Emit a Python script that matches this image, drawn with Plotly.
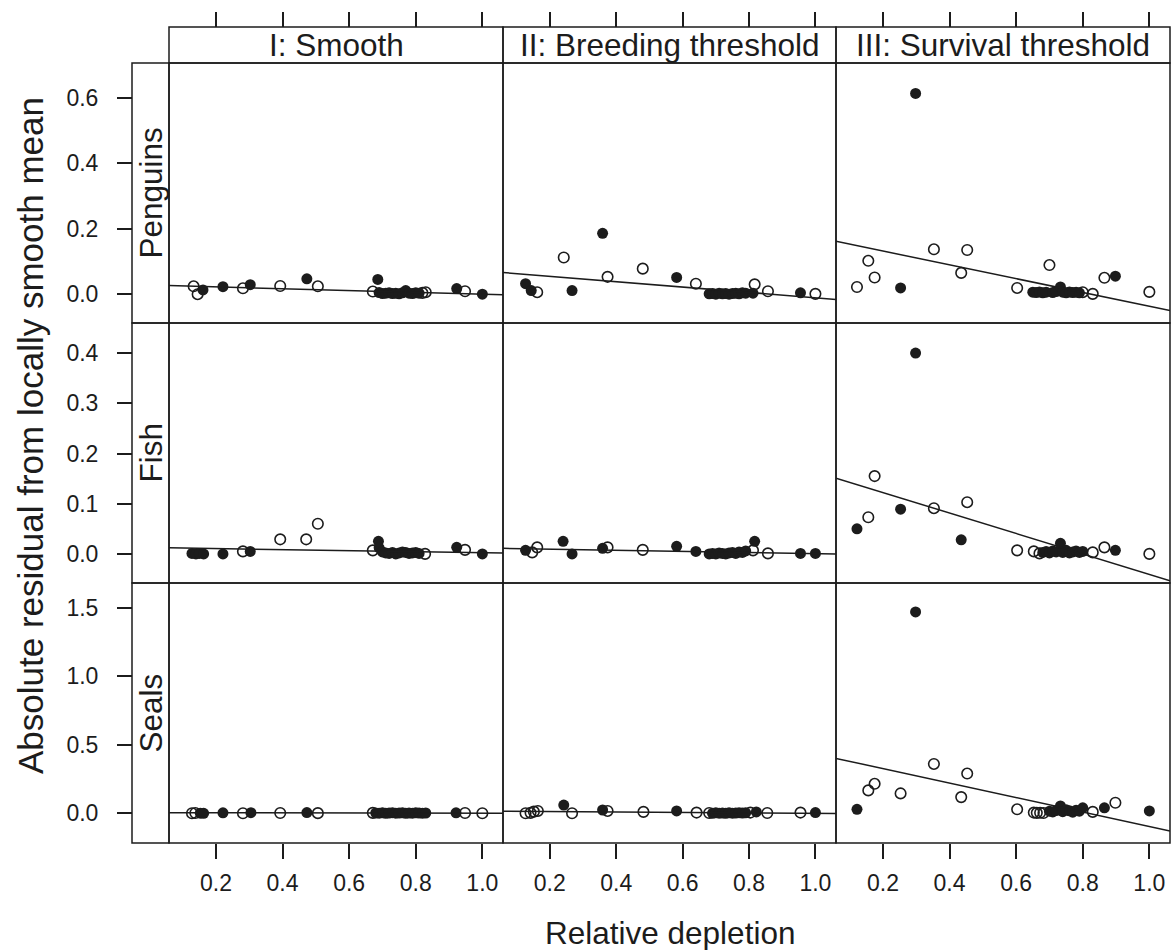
import plotly.graph_objects as go

# ---- data -------------------------------------------------------------------
ROWS = ["Penguins", "Fish", "Seals"]
COLS = ["I: Smooth", "II: Breeding threshold", "III: Survival threshold"]

X_TICKS = [0.2, 0.4, 0.6, 0.8, 1.0]
X_TICK_TEXT = ["0.2", "0.4", "0.6", "0.8", "1.0"]
Y_TICKS = [[0.0, 0.2, 0.4, 0.6], [0.0, 0.1, 0.2, 0.3, 0.4], [0.0, 0.5, 1.0, 1.5]]
Y_TICK_TEXT = [["0.0", "0.2", "0.4", "0.6"],
               ["0.0", "0.1", "0.2", "0.3", "0.4"],
               ["0.0", "0.5", "1.0", "1.5"]]
X_RANGE = [0.059, 1.062]
Y_RANGES = [[-0.088, 0.706], [-0.058, 0.46], [-0.217, 1.681]]

# fitted lines: y = a + b * x, per row, per column
INTERCEPTS = [[0.028, 0.071, 0.174], [0.0126, 0.0117, 0.163], [0.005, 0.016, 0.432]]
SLOPES = [[-0.028, -0.082, -0.211], [-0.010, -0.011, -0.204], [-0.005, -0.017, -0.529]]

# points: x, y, filled (1) / open (0)
PEN_I_X = [0.133, 0.145, 0.161, 0.221, 0.281, 0.303, 0.393, 0.473, 0.506, 0.671, 0.686,
           0.69, 0.70, 0.71, 0.72, 0.73, 0.74, 0.75, 0.76, 0.77, 0.78, 0.79, 0.80, 0.81, 0.82, 0.83,
           0.923, 0.948, 1.0]
PEN_I_Y = [0.024, 0.0, 0.013, 0.023, 0.018, 0.029, 0.025, 0.047, 0.024, 0.008, 0.045,
           0.005, 0.002, 0.003, 0.004, 0.002, 0.003, 0.001, 0.004, 0.011, 0.003, 0.002, 0.004, 0.003, 0.004, 0.006,
           0.017, 0.009, 0.0]
PEN_I_F = [0, 0, 1, 1, 0, 1, 0, 1, 0, 0, 1,
           1, 1, 1, 1, 1, 1, 1, 1, 1, 1, 1, 1, 1, 0, 0,
           1, 0, 1]

PEN_II_X = [0.127, 0.144, 0.162, 0.242, 0.267, 0.359, 0.374, 0.480, 0.582, 0.640,
            0.68, 0.69, 0.70, 0.71, 0.72, 0.73, 0.74, 0.75, 0.76, 0.77, 0.78, 0.79,
            0.812, 0.817, 0.857, 0.955, 1.0]
PEN_II_Y = [0.032, 0.011, 0.006, 0.112, 0.011, 0.186, 0.053, 0.078, 0.051, 0.032,
            0.001, 0.002, 0.0, 0.003, 0.001, 0.002, 0.0, 0.002, 0.003, 0.001, 0.004, 0.003,
            0.003, 0.030, 0.009, 0.004, 0.001]
PEN_II_F = [1, 1, 0, 0, 1, 1, 0, 0, 1, 0,
            1, 1, 1, 1, 1, 1, 1, 1, 1, 1, 1, 1,
            1, 0, 0, 1, 0]

PEN_III_X = [0.122, 0.156, 0.175, 0.253, 0.298, 0.353, 0.435, 0.453, 0.603, 0.700,
             0.65, 0.66, 0.67, 0.68, 0.69, 0.71, 0.72, 0.733, 0.74, 0.75, 0.76, 0.77, 0.78, 0.79,
             0.80, 0.83, 0.865, 0.898, 1.0]
PEN_III_Y = [0.022, 0.102, 0.051, 0.019, 0.613, 0.137, 0.065, 0.135, 0.019, 0.089,
             0.006, 0.005, 0.007, 0.004, 0.006, 0.005, 0.008, 0.022, 0.006, 0.004, 0.007, 0.005, 0.006, 0.004,
             0.006, 0.001, 0.050, 0.055, 0.007]
PEN_III_F = [0, 0, 0, 1, 1, 0, 0, 0, 0, 0,
             1, 1, 1, 1, 1, 1, 1, 1, 1, 1, 1, 1, 1, 1,
             0, 0, 0, 1, 0]

FISH_I_X = [0.128, 0.140, 0.150, 0.163, 0.221, 0.281, 0.303, 0.393, 0.471, 0.506, 0.671, 0.688,
            0.69, 0.70, 0.71, 0.72, 0.73, 0.74, 0.75, 0.76, 0.77, 0.78, 0.79, 0.80, 0.81, 0.828,
            0.923, 0.948, 1.0]
FISH_I_Y = [0.001, 0.0, 0.001, 0.0, 0.0, 0.005, 0.005, 0.029, 0.029, 0.060, 0.007, 0.025,
            0.012, 0.004, 0.002, 0.001, 0.003, 0.0, 0.002, 0.004, 0.003, 0.001, 0.002, 0.003, 0.001, 0.0,
            0.013, 0.008, 0.0]
FISH_I_F = [1, 1, 1, 1, 1, 0, 1, 0, 0, 0, 0, 1,
            1, 1, 1, 1, 1, 1, 1, 1, 1, 1, 1, 1, 1, 0,
            1, 0, 1]

FISH_II_X = [0.127, 0.147, 0.162, 0.240, 0.267, 0.359, 0.374, 0.480, 0.582, 0.640,
             0.68, 0.69, 0.70, 0.71, 0.72, 0.73, 0.74, 0.75, 0.76, 0.77, 0.78, 0.79,
             0.812, 0.817, 0.857, 0.955, 1.0]
FISH_II_Y = [0.007, 0.003, 0.013, 0.025, 0.0, 0.011, 0.013, 0.008, 0.015, 0.005,
             0.0, 0.001, 0.0, 0.002, 0.001, 0.0, 0.002, 0.003, 0.001, 0.004, 0.003, 0.006,
             0.007, 0.025, 0.001, 0.001, 0.001]
FISH_II_F = [1, 0, 0, 1, 1, 1, 0, 0, 1, 1,
             1, 1, 1, 1, 1, 1, 1, 1, 1, 1, 1, 1,
             0, 1, 0, 1, 1]

FISH_III_X = [0.122, 0.156, 0.175, 0.253, 0.298, 0.353, 0.435, 0.453, 0.603, 0.653, 0.670,
              0.68, 0.69, 0.70, 0.71, 0.72, 0.733, 0.74, 0.75, 0.76, 0.77, 0.78, 0.79, 0.80,
              0.83, 0.865, 0.898, 1.0]
FISH_III_Y = [0.050, 0.073, 0.155, 0.089, 0.400, 0.091, 0.028, 0.103, 0.007, 0.005, 0.001,
              0.003, 0.005, 0.002, 0.006, 0.004, 0.021, 0.003, 0.007, 0.002, 0.004, 0.006, 0.003, 0.005,
              0.003, 0.013, 0.007, 0.0]
FISH_III_F = [1, 0, 0, 1, 1, 0, 1, 0, 0, 0, 0,
              1, 1, 1, 1, 1, 1, 1, 1, 1, 1, 1, 1, 1,
              0, 0, 1, 0]

SEAL_I_X = [0.128, 0.138, 0.153, 0.163, 0.221, 0.281, 0.305, 0.393, 0.473, 0.506, 0.671,
            0.68, 0.69, 0.70, 0.71, 0.72, 0.73, 0.74, 0.75, 0.76, 0.77, 0.78, 0.79, 0.80, 0.81, 0.82, 0.83,
            0.921, 0.948, 1.0]
SEAL_I_Y = [0.0, 0.002, 0.001, 0.0, 0.003, 0.0, 0.004, 0.002, 0.005, 0.001, 0.003,
            0.002, 0.001, 0.003, 0.0, 0.002, 0.004, 0.001, 0.002, 0.003, 0.0, 0.002, 0.001, 0.003, 0.002, 0.001, 0.002,
            0.003, 0.002, 0.0]
SEAL_I_F = [0, 0, 1, 1, 1, 0, 1, 0, 1, 0, 0,
            1, 1, 1, 1, 1, 1, 1, 1, 1, 1, 1, 1, 1, 1, 1, 1,
            1, 0, 0]

SEAL_II_X = [0.127, 0.142, 0.152, 0.164, 0.242, 0.267, 0.359, 0.374, 0.482, 0.582, 0.642,
             0.68, 0.69, 0.70, 0.71, 0.72, 0.73, 0.74, 0.75, 0.76, 0.77, 0.78, 0.79,
             0.804, 0.822, 0.855, 0.955, 1.0]
SEAL_II_Y = [0.0, 0.003, 0.012, 0.017, 0.060, 0.0, 0.024, 0.017, 0.010, 0.017, 0.005,
             0.002, 0.0, 0.003, 0.001, 0.002, 0.0, 0.003, 0.001, 0.002, 0.004, 0.002, 0.003,
             0.005, 0.010, 0.002, 0.005, 0.005]
SEAL_II_F = [0, 0, 0, 0, 1, 0, 1, 0, 0, 1, 0,
             0, 1, 1, 1, 1, 1, 1, 1, 1, 1, 1, 1,
             0, 1, 0, 0, 1]

SEAL_III_X = [0.122, 0.156, 0.175, 0.253, 0.298, 0.353, 0.435, 0.453, 0.603, 0.653, 0.662, 0.672, 0.682,
              0.70, 0.71, 0.72, 0.733, 0.74, 0.75, 0.76, 0.77, 0.78, 0.79, 0.80,
              0.83, 0.865, 0.898, 1.0]
SEAL_III_Y = [0.029, 0.167, 0.215, 0.145, 1.47, 0.360, 0.118, 0.290, 0.029, 0.005, 0.003, 0.004, 0.002,
              0.015, 0.010, 0.020, 0.053, 0.012, 0.025, 0.018, 0.008, 0.022, 0.015, 0.040,
              0.010, 0.040, 0.077, 0.017]
SEAL_III_F = [1, 0, 0, 0, 1, 0, 0, 0, 0, 0, 0, 0, 0,
              1, 1, 1, 1, 1, 1, 1, 1, 1, 1, 1,
              0, 1, 0, 1]

PANELS = [
    [(PEN_I_X, PEN_I_Y, PEN_I_F), (PEN_II_X, PEN_II_Y, PEN_II_F), (PEN_III_X, PEN_III_Y, PEN_III_F)],
    [(FISH_I_X, FISH_I_Y, FISH_I_F), (FISH_II_X, FISH_II_Y, FISH_II_F), (FISH_III_X, FISH_III_Y, FISH_III_F)],
    [(SEAL_I_X, SEAL_I_Y, SEAL_I_F), (SEAL_II_X, SEAL_II_Y, SEAL_II_F), (SEAL_III_X, SEAL_III_Y, SEAL_III_F)],
]

# ---- layout geometry (pixels) ---------------------------------------------
W, H = 1171, 950
COL_EDGES = [169, 503, 836, 1170]
ROW_EDGES = [63, 323, 583, 843]
STRIP_TOP = 27
STRIP_LEFT = 132
INK = "#1c1c1c"
FONT = "Liberation Sans, Arial, Helvetica, sans-serif"


def fx(p):
    return p / W


def fy(p):
    return 1 - p / H


fig = go.Figure()
axes = {}

for r in range(3):
    for c in range(3):
        k = r * 3 + c + 1
        sfx = "" if k == 1 else str(k)
        xs, ys, fl = PANELS[r][c]

        fig.add_trace(go.Scatter(
            x=[x for x, f in zip(xs, fl) if not f],
            y=[y for y, f in zip(ys, fl) if not f],
            mode="markers", xaxis="x" + sfx, yaxis="y" + sfx,
            marker=dict(symbol="circle-open", size=10.5, color=INK, line=dict(width=1.6)),
        ))
        fig.add_trace(go.Scatter(
            x=[x for x, f in zip(xs, fl) if f],
            y=[y for y, f in zip(ys, fl) if f],
            mode="markers", xaxis="x" + sfx, yaxis="y" + sfx,
            marker=dict(symbol="circle", size=11, color=INK),
        ))
        a, b = INTERCEPTS[r][c], SLOPES[r][c]
        fig.add_trace(go.Scatter(
            x=X_RANGE, y=[a + b * x for x in X_RANGE],
            mode="lines", xaxis="x" + sfx, yaxis="y" + sfx,
            line=dict(color=INK, width=1.5),
        ))

        bottom = r == 2
        axes["xaxis" + sfx] = dict(
            domain=[fx(COL_EDGES[c]), fx(COL_EDGES[c + 1])],
            range=X_RANGE, anchor="y" + sfx,
            showgrid=False, zeroline=False, showline=False,
            ticks="outside" if bottom else "", ticklen=15, tickwidth=1.5, tickcolor=INK,
            tickvals=X_TICKS, ticktext=X_TICK_TEXT, showticklabels=bottom,
            tickfont=dict(size=23, color=INK), ticklabelstandoff=4,
        )
        ya = dict(
            domain=[fy(ROW_EDGES[r + 1]), fy(ROW_EDGES[r])],
            range=Y_RANGES[r], showgrid=False, zeroline=False, showline=False,
        )
        if c == 0:
            ya.update(anchor="free", position=fx(STRIP_LEFT), ticks="outside", ticklen=15,
                      tickwidth=1.5, tickcolor=INK, tickvals=Y_TICKS[r], ticktext=Y_TICK_TEXT[r],
                      tickfont=dict(size=23, color=INK), ticklabelstandoff=14)
        else:
            ya.update(anchor="x" + sfx, ticks="", showticklabels=False)
        axes["yaxis" + sfx] = ya

# tick marks above the top strip
for c in range(3):
    base = "x" if c == 0 else "x" + str(c + 1)
    k = 10 + c
    axes["xaxis%d" % k] = dict(
        overlaying=base, anchor="free", position=fy(STRIP_TOP), side="top",
        range=X_RANGE, showgrid=False, zeroline=False, showline=False,
        ticks="outside", ticklen=15, tickwidth=1.5, tickcolor=INK,
        tickvals=X_TICKS, showticklabels=False,
    )
    fig.add_trace(go.Scatter(x=[None], y=[None], mode="markers", xaxis="x%d" % k,
                             yaxis="y" if c == 0 else "y" + str(c + 1), hoverinfo="skip"))

shapes = []
line = dict(color=INK, width=1.5)
for r in range(3):
    for c in range(3):
        shapes.append(dict(type="rect", xref="paper", yref="paper", line=line,
                           x0=fx(COL_EDGES[c]), x1=fx(COL_EDGES[c + 1]),
                           y0=fy(ROW_EDGES[r + 1]), y1=fy(ROW_EDGES[r])))
for c in range(3):
    shapes.append(dict(type="rect", xref="paper", yref="paper", line=line,
                       x0=fx(COL_EDGES[c]), x1=fx(COL_EDGES[c + 1]),
                       y0=fy(ROW_EDGES[0]), y1=fy(STRIP_TOP)))
for r in range(3):
    shapes.append(dict(type="rect", xref="paper", yref="paper", line=line,
                       x0=fx(STRIP_LEFT), x1=fx(COL_EDGES[0]),
                       y0=fy(ROW_EDGES[r + 1]), y1=fy(ROW_EDGES[r])))

annotations = []
for c, name in enumerate(COLS):
    annotations.append(dict(text=name, xref="paper", yref="paper", showarrow=False,
                            x=fx((COL_EDGES[c] + COL_EDGES[c + 1]) / 2), y=fy((STRIP_TOP + ROW_EDGES[0]) / 2),
                            xanchor="center", yanchor="middle", font=dict(size=31.5, color=INK)))
for r, name in enumerate(ROWS):
    annotations.append(dict(text=name, xref="paper", yref="paper", showarrow=False, textangle=-90,
                            x=fx((STRIP_LEFT + COL_EDGES[0]) / 2), y=fy((ROW_EDGES[r] + ROW_EDGES[r + 1]) / 2),
                            xanchor="center", yanchor="middle", font=dict(size=31.5, color=INK)))
annotations.append(dict(text="Relative depletion", xref="paper", yref="paper", showarrow=False,
                        x=fx((COL_EDGES[0] + COL_EDGES[3]) / 2), y=fy(933),
                        xanchor="center", yanchor="middle", font=dict(size=31.5, color=INK)))
annotations.append(dict(text="Absolute residual from locally smooth mean", xref="paper", yref="paper",
                        showarrow=False, textangle=-90, x=fx(31), y=fy(436),
                        xanchor="center", yanchor="middle", font=dict(size=35, color=INK)))

fig.update_layout(
    width=W, height=H, margin=dict(l=0, r=0, t=0, b=0),
    paper_bgcolor="white", plot_bgcolor="white", showlegend=False,
    font=dict(family=FONT, color=INK),
    shapes=shapes, annotations=annotations,
    **axes,
)

fig.write_html("out.html", config={"displayModeBar": False},
               post_script="document.body.style.margin='0';document.body.style.overflow='hidden';")
